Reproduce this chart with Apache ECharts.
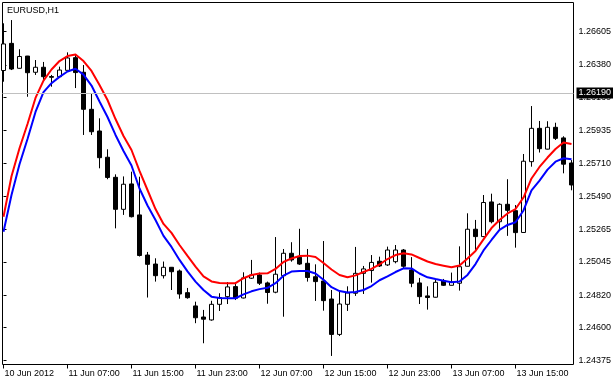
<!DOCTYPE html>
<html><head><meta charset="utf-8">
<script src="https://cdn.jsdelivr.net/npm/echarts@6/dist/echarts.min.js"></script>
<style>html,body{margin:0;padding:0;background:#fff}#c{width:613px;height:382px}</style>
</head><body><div id="c"></div>
<script>
const chartTitle = 'EURUSD,H1';
const timeLabels = ['10 Jun 2012','11 Jun 07:00','11 Jun 15:00','11 Jun 23:00','12 Jun 07:00','12 Jun 15:00','12 Jun 23:00','13 Jun 07:00','13 Jun 15:00'];
const labelBars = [0,8,16,24,32,40,48,56,64];
const priceTicks = [1.26605,1.26380,1.26160,1.25935,1.25710,1.25490,1.25265,1.25045,1.24820,1.24600,1.24375];
const bidPrice = 1.26190;

const opens = [1.26342,1.26526,1.26357,1.26440,1.26330,1.26364,1.26301,1.26300,1.26343,1.26429,
1.26330,1.26079,1.25932,1.25754,1.25618,1.25401,1.25573,1.25363,1.25091,1.25030,
1.24951,1.25008,1.24983,1.24836,1.24746,1.24671,1.24651,1.24757,1.24809,1.24877,
1.24800,1.24934,1.24956,1.24902,1.24839,1.24951,1.25103,1.25076,1.25035,1.24944,
1.24915,1.24793,1.24553,1.24757,1.24832,1.24967,1.24986,1.25049,1.25024,1.25046,
1.25125,1.24990,1.24902,1.24814,1.24805,1.24915,1.24886,1.24900,1.25015,1.25266,
1.25216,1.25451,1.25317,1.25435,1.25392,1.25244,1.25724,1.25950,1.25809,1.25957,
1.25885,1.25715];
const closes = [1.26522,1.26352,1.26437,1.26327,1.26364,1.26300,1.26296,1.26345,1.26427,1.26328,
1.26079,1.25927,1.25751,1.25617,1.25401,1.25571,1.25351,1.25088,1.25028,1.24951,
1.25008,1.24978,1.24827,1.24802,1.24666,1.24656,1.24757,1.24803,1.24875,1.24798,
1.24936,1.24956,1.24900,1.24837,1.24961,1.25103,1.25058,1.25030,1.24939,1.24911,
1.24782,1.24553,1.24759,1.24834,1.24967,1.24997,1.25041,1.25017,1.25125,1.25125,
1.25015,1.24900,1.24809,1.24803,1.24906,1.24886,1.24908,1.25012,1.25266,1.25216,
1.25447,1.25317,1.25435,1.25394,1.25243,1.25727,1.25950,1.25812,1.25957,1.25882,
1.25707,1.25566];
const lows = [1.26266,1.26345,1.26355,1.26164,1.26312,1.26278,1.26232,1.26298,1.26342,1.26223,
1.25905,1.25905,1.25679,1.25605,1.25272,1.25363,1.25346,1.25081,1.24803,1.24911,
1.24932,1.24854,1.24795,1.24795,1.24629,1.24493,1.24646,1.24712,1.24759,1.24786,
1.24797,1.24929,1.24888,1.24761,1.24832,1.24673,1.25046,1.25024,1.24911,1.24780,
1.24714,1.24407,1.24542,1.24712,1.24814,1.24827,1.24904,1.25010,1.25017,1.25035,
1.24997,1.24873,1.24759,1.24721,1.24803,1.24881,1.24885,1.24850,1.25014,1.25119,
1.25212,1.25306,1.25268,1.25221,1.25141,1.25243,1.25690,1.25786,1.25807,1.25871,
1.25645,1.25530];
const highs = [1.26662,1.26684,1.26486,1.26441,1.26413,1.26400,1.26312,1.26368,1.26465,1.26454,
1.26379,1.26187,1.26018,1.25808,1.25638,1.25624,1.25656,1.25622,1.25112,1.25069,
1.25047,1.25010,1.24993,1.24868,1.24775,1.24719,1.24781,1.24832,1.24908,1.24908,
1.24974,1.25058,1.24972,1.24911,1.25213,1.25132,1.25178,1.25269,1.25132,1.25028,
1.25186,1.24854,1.24841,1.24879,1.25146,1.25017,1.25091,1.25080,1.25148,1.25159,
1.25132,1.25077,1.24936,1.24879,1.24922,1.24929,1.24972,1.25150,1.25374,1.25329,
1.25498,1.25507,1.25442,1.25605,1.25430,1.25776,1.26101,1.26000,1.25998,1.25988,
1.25896,1.25735];
const maRed = [1.25351,1.25625,1.25815,1.25979,1.26156,1.26273,1.26349,1.26406,1.26440,1.26450,
1.26406,1.26339,1.26244,1.26142,1.26013,1.25898,1.25803,1.25661,1.25532,1.25403,
1.25302,1.25241,1.25159,1.25085,1.25012,1.24946,1.24912,1.24902,1.24900,1.24900,
1.24934,1.24956,1.24966,1.24967,1.24997,1.25044,1.25068,1.25085,1.25087,1.25078,
1.25037,1.24993,1.24956,1.24940,1.24953,1.24976,1.24997,1.25027,1.25064,1.25091,
1.25103,1.25095,1.25071,1.25047,1.25030,1.25019,1.25008,1.25020,1.25068,1.25119,
1.25197,1.25274,1.25329,1.25373,1.25403,1.25481,1.25610,1.25688,1.25752,1.25810,
1.25854,1.25844];
const maBlue = [1.25249,1.25498,1.25706,1.25878,1.26061,1.26195,1.26256,1.26299,1.26335,1.26354,
1.26314,1.26240,1.26132,1.26027,1.25905,1.25796,1.25698,1.25542,1.25427,1.25329,
1.25221,1.25146,1.25058,1.24980,1.24911,1.24854,1.24809,1.24800,1.24798,1.24798,
1.24824,1.24845,1.24860,1.24869,1.24900,1.24951,1.24979,1.24983,1.24983,1.24966,
1.24924,1.24873,1.24847,1.24837,1.24841,1.24854,1.24881,1.24920,1.24947,1.24976,
1.25001,1.25000,1.24966,1.24940,1.24928,1.24917,1.24906,1.24912,1.24956,1.25030,
1.25122,1.25193,1.25261,1.25295,1.25313,1.25393,1.25529,1.25596,1.25670,1.25724,
1.25747,1.25740];

const FONT = 'Liberation Sans, Arial, sans-serif';
const candleData = opens.map((o, i) => [i, o, closes[i], lows[i], highs[i]]);
const redData = maRed.map((v, i) => [i, v]);
const blueData = maBlue.map((v, i) => [i, v]);

const chart = echarts.init(document.getElementById('c'), null, {renderer: 'canvas'});
chart.setOption({
  animation: false,
  backgroundColor: '#fff',
  title: {text: chartTitle, left: 2, top: 1, padding: [5, 5],
    textStyle: {fontSize: 9, fontWeight: 'normal', color: '#000', fontFamily: FONT}},
  grid: {left: 2.5, top: 2.5, width: 571, height: 362, show: true,
    borderColor: '#000', borderWidth: 1, backgroundColor: '#fff',
    containLabel: false, outerBoundsMode: 'none'},
  xAxis: {type: 'value', min: -0.125, max: 71.25,
    splitLine: {show: false}, axisLine: {show: false},
    axisTick: {show: true, customValues: labelBars, length: 4, lineStyle: {color: '#000', width: 1}},
    axisLabel: {show: true, customValues: labelBars, align: 'left', margin: 5, padding: [0, 0, 0, 1],
      color: '#000', fontSize: 9, fontFamily: FONT,
      formatter: v => timeLabels[labelBars.indexOf(Math.round(v))] || ''}},
  yAxis: {type: 'value', position: 'right', min: 1.24349, max: 1.26803, scale: true,
    splitLine: {show: false}, axisLine: {show: false},
    axisTick: {show: true, customValues: priceTicks, length: 3, lineStyle: {color: '#000', width: 1}},
    axisLabel: {show: true, customValues: priceTicks, margin: 5, color: '#000', fontSize: 9, fontFamily: FONT,
      formatter: v => v.toFixed(5)}},
  series: [
    {type: 'line', data: [], silent: true, clip: false, z: 1,
      markLine: {silent: true, symbol: ['none', 'none'], animation: false, precision: 5,
        data: [{yAxis: bidPrice}],
        lineStyle: {color: '#c0c0c0', width: 1, type: 'solid'},
        label: {show: true, position: 'end', distance: 3, formatter: bidPrice.toFixed(5),
          color: '#fff', backgroundColor: '#000', padding: [1, 2, 1, 2], fontSize: 9, fontFamily: FONT}}},
    {type: 'candlestick', data: candleData, barWidth: 4, z: 2, clip: true,
      itemStyle: {color: '#fff', color0: '#000', borderColor: '#000', borderColor0: '#000', borderWidth: 1}},
    {type: 'line', data: redData, showSymbol: false, symbol: 'none', z: 3, silent: true,
      lineStyle: {color: '#ff0000', width: 2}},
    {type: 'line', data: blueData, showSymbol: false, symbol: 'none', z: 3, silent: true,
      lineStyle: {color: '#0000ff', width: 2}}
  ]
});
</script>
</body></html>
